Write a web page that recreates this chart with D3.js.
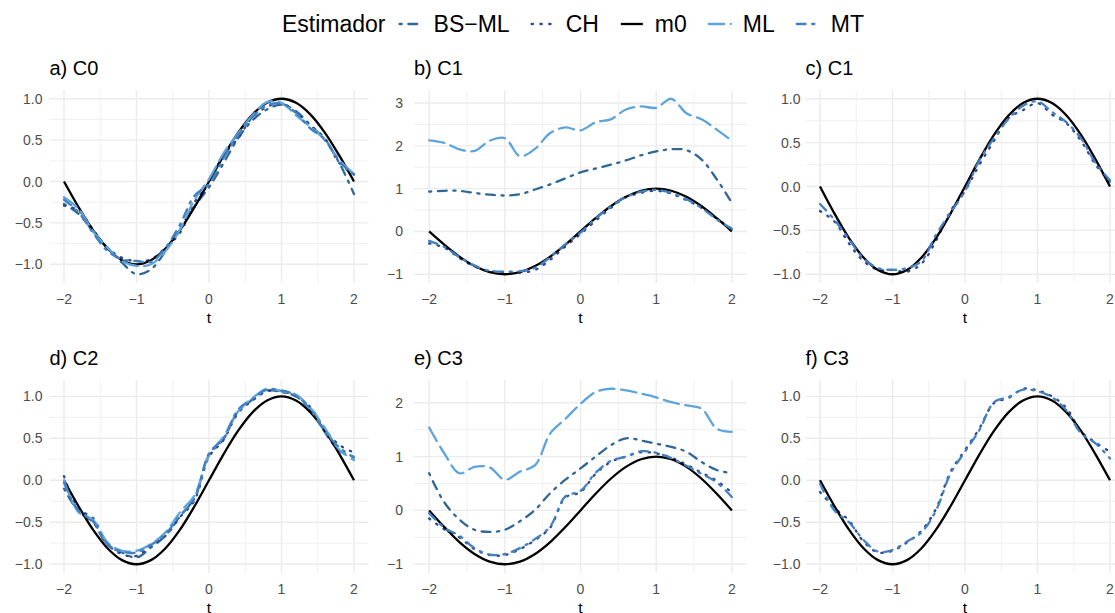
<!DOCTYPE html>
<html>
<head>
<meta charset="utf-8">
<script src="https://cdn.jsdelivr.net/npm/d3@7"></script>
<style>
  body { margin: 0; background: #fff; }
  text { font-family: "Liberation Sans", Arial, sans-serif; }
</style>
</head>
<body>
<div id="chart"></div>
<script>
const width = 1115, height = 613;

// grid of t values shared by every curve
const tGrid = [-2, -1.8, -1.6, -1.4, -1.2, -1, -0.8, -0.6, -0.4, -0.2, 0, 0.2, 0.4, 0.6, 0.8, 1, 1.2, 1.4, 1.6, 1.8, 2];

// true curve
const m0 = [0, -0.309, -0.588, -0.809, -0.951, -1, -0.951, -0.809, -0.588, -0.309, 0, 0.309, 0.588, 0.809, 0.951, 1, 0.951, 0.809, 0.588, 0.309, 0];

// a) C0
const aBSML = [-0.27, -0.39, -0.6, -0.8, -0.98, -1.12, -1.06, -0.84, -0.56, -0.3, -0.07, 0.22, 0.52, 0.74, 0.87, 0.93, 0.85, 0.68, 0.5, 0.22, -0.15];
const aCH   = [-0.29, -0.35, -0.58, -0.8, -0.92, -0.96, -0.94, -0.8, -0.62, -0.25, -0.01, 0.32, 0.52, 0.78, 0.9, 0.95, 0.83, 0.68, 0.52, 0.22, 0.09];
const aML   = [-0.19, -0.33, -0.6, -0.8, -0.96, -1.02, -1.0, -0.84, -0.58, -0.22, 0.03, 0.34, 0.58, 0.8, 0.96, 0.95, 0.8, 0.66, 0.5, 0.26, 0.09];
const aMT   = [-0.22, -0.37, -0.62, -0.84, -0.94, -0.96, -0.97, -0.8, -0.52, -0.17, -0.03, 0.28, 0.56, 0.78, 0.92, 0.94, 0.83, 0.64, 0.51, 0.24, 0.08];

// b) C1
const bBSML = [0.93, 0.95, 0.95, 0.9, 0.86, 0.84, 0.87, 0.98, 1.1, 1.24, 1.38, 1.47, 1.56, 1.66, 1.78, 1.87, 1.92, 1.9, 1.68, 1.22, 0.67];
const bCH   = [-0.28, -0.38, -0.62, -0.82, -0.93, -0.95, -0.96, -0.9, -0.66, -0.35, -0.06, 0.25, 0.55, 0.8, 0.9, 0.95, 0.88, 0.73, 0.55, 0.3, 0.06];
const bML   = [2.13, 2.07, 1.92, 1.88, 2.12, 2.18, 1.76, 1.93, 2.3, 2.43, 2.36, 2.55, 2.62, 2.85, 2.92, 2.89, 3.1, 2.76, 2.62, 2.38, 2.12];
const bMT   = [-0.22, -0.36, -0.6, -0.8, -0.92, -0.94, -0.93, -0.85, -0.6, -0.3, -0.03, 0.3, 0.58, 0.8, 0.93, 0.97, 0.9, 0.75, 0.55, 0.28, 0.06];

// c) C1
const cCH = [-0.28, -0.4, -0.65, -0.85, -0.95, -0.95, -0.97, -0.88, -0.62, -0.28, -0.05, 0.25, 0.52, 0.78, 0.87, 0.95, 0.82, 0.72, 0.52, 0.25, 0.05];
const cMT = [-0.2, -0.38, -0.6, -0.82, -0.93, -0.95, -0.93, -0.85, -0.55, -0.3, -0.05, 0.3, 0.55, 0.77, 0.92, 0.97, 0.85, 0.73, 0.55, 0.27, 0.07];

// d) C2
const dBSML = [-0.1, -0.37, -0.5, -0.77, -0.86, -0.92, -0.8, -0.66, -0.43, -0.21, 0.3, 0.49, 0.82, 0.96, 1.07, 1.05, 1.0, 0.84, 0.57, 0.35, 0.28];
const dCH   = [0.05, -0.34, -0.45, -0.76, -0.88, -0.9, -0.78, -0.66, -0.44, -0.24, 0.28, 0.48, 0.8, 0.95, 1.06, 1.06, 1.0, 0.87, 0.6, 0.42, 0.33];
const dML   = [0.0, -0.38, -0.47, -0.74, -0.84, -0.84, -0.76, -0.62, -0.38, -0.18, 0.3, 0.52, 0.82, 0.98, 1.09, 1.06, 1.02, 0.86, 0.62, 0.36, 0.24];
const dMT   = [-0.03, -0.36, -0.49, -0.76, -0.85, -0.86, -0.77, -0.64, -0.42, -0.22, 0.32, 0.5, 0.84, 0.97, 1.08, 1.07, 1.01, 0.84, 0.58, 0.39, 0.27];

// e) C3
const eBSML = [0.69, 0.15, -0.17, -0.36, -0.4, -0.36, -0.2, 0.01, 0.32, 0.57, 0.78, 1.0, 1.21, 1.34, 1.3, 1.24, 1.18, 1.09, 0.9, 0.75, 0.69];
const eCH   = [-0.15, -0.35, -0.5, -0.72, -0.83, -0.83, -0.72, -0.55, -0.32, 0.24, 0.34, 0.68, 0.9, 1.0, 1.08, 1.06, 0.98, 0.85, 0.7, 0.55, 0.33];
const eML   = [1.54, 1.06, 0.69, 0.81, 0.8, 0.57, 0.72, 0.84, 1.43, 1.7, 1.98, 2.2, 2.26, 2.23, 2.17, 2.1, 2.01, 1.95, 1.89, 1.52, 1.46];
const eMT   = [-0.05, -0.32, -0.47, -0.7, -0.82, -0.81, -0.7, -0.53, -0.3, 0.26, 0.36, 0.7, 0.92, 1.0, 1.1, 1.07, 0.97, 0.83, 0.68, 0.52, 0.25];

// f) C3
const fCH = [-0.14, -0.33, -0.48, -0.73, -0.86, -0.84, -0.74, -0.6, -0.34, 0.1, 0.36, 0.62, 0.92, 0.98, 1.09, 1.07, 1.0, 0.86, 0.58, 0.45, 0.34];
const fMT = [-0.04, -0.36, -0.5, -0.71, -0.85, -0.83, -0.73, -0.62, -0.36, 0.08, 0.34, 0.6, 0.93, 0.99, 1.08, 1.06, 0.99, 0.83, 0.56, 0.44, 0.26];

const estimators = ["BS−ML", "CH", "m0", "ML", "MT"];
const xTicks = [-2, -1, 0, 1, 2];

const panels = [
  { title: "a) C0", col: 0, row: 0, lines: { "BS−ML": aBSML, "CH": aCH, "m0": m0, "ML": aML, "MT": aMT } },
  { title: "b) C1", col: 1, row: 0, lines: { "BS−ML": bBSML, "CH": bCH, "m0": m0, "ML": bML, "MT": bMT } },
  { title: "c) C1", col: 2, row: 0, lines: { "CH": cCH, "m0": m0, "MT": cMT } },
  { title: "d) C2", col: 0, row: 1, lines: { "BS−ML": dBSML, "CH": dCH, "m0": m0, "ML": dML, "MT": dMT } },
  { title: "e) C3", col: 1, row: 1, lines: { "BS−ML": eBSML, "CH": eCH, "m0": m0, "ML": eML, "MT": eMT } },
  { title: "f) C3", col: 2, row: 1, lines: { "CH": fCH, "m0": m0, "MT": fMT } }
];

// styles
const u = 2.2; // dash unit
const lw = 2.3;
const color = { "BS−ML": "#2f6896", "CH": "#2c4896", "m0": "#000000", "ML": "#5ea4dc", "MT": "#4280c0" };
const dash = {
  "BS−ML": [1, 3, 4, 3].map(d => d * u).join(","),
  "CH": [0.6, 3.4].map(d => d * u).join(","),
  "m0": null,
  "ML": [7, 3].map(d => d * u).join(","),
  "MT": [4, 3, 1, 3].map(d => d * u).join(",")
};

// panel boxes
const cols = [[49.5, 368.5], [414, 747], [805.5, 1124.5]];
const labelGap = [7, 11, 5];
const rows = [[90, 283], [380, 573]];

const svg = d3.select("#chart")
  .append("svg")
  .attr("width", width)
  .attr("height", height)
  .attr("viewBox", [0, 0, width, height]);

for (let p of panels) {
  let [x0, x1] = cols[p.col];
  let [y0, y1] = rows[p.row];

  let x = d3.scaleLinear().domain([-2.2, 2.2]).range([x0, x1]);

  let all = [];
  for (let k in p.lines) all = all.concat(p.lines[k]);
  let ext = d3.extent(all);
  let pad = (ext[1] - ext[0]) * 0.05;
  let y = d3.scaleLinear().domain([ext[0] - pad, ext[1] + pad]).range([y1, y0]);

  let yTicks = y.ticks(5);
  let step = yTicks[1] - yTicks[0];
  let yMinor = [yTicks[0] - step / 2].concat(yTicks.map(v => v + step / 2))
    .filter(v => v >= y.domain()[0] && v <= y.domain()[1]);
  let fmt = step < 1 ? d3.format(".1f") : d3.format("d");
  let xMinor = [-1.5, -0.5, 0.5, 1.5];

  let g = svg.append("g");
  let grid = g.append("g").attr("stroke", "#ebebeb").attr("fill", "none");

  grid.selectAll(".ymin").data(yMinor).join("line")
    .attr("x1", x0).attr("x2", x1)
    .attr("y1", d => y(d)).attr("y2", d => y(d))
    .attr("stroke-width", 0.7);
  grid.selectAll(".xmin").data(xMinor).join("line")
    .attr("y1", y0).attr("y2", y1)
    .attr("x1", d => x(d)).attr("x2", d => x(d))
    .attr("stroke-width", 0.7);
  grid.selectAll(".ymaj").data(yTicks).join("line")
    .attr("x1", x0).attr("x2", x1)
    .attr("y1", d => y(d)).attr("y2", d => y(d))
    .attr("stroke-width", 1.4);
  grid.selectAll(".xmaj").data(xTicks).join("line")
    .attr("y1", y0).attr("y2", y1)
    .attr("x1", d => x(d)).attr("x2", d => x(d))
    .attr("stroke-width", 1.4);

  // y labels
  g.selectAll(".ylab").data(yTicks).join("text")
    .text(d => fmt(d))
    .attr("x", x0 - labelGap[p.col])
    .attr("y", d => y(d))
    .attr("text-anchor", "end")
    .attr("dominant-baseline", "central")
    .attr("font-size", 14)
    .attr("fill", "#4d4d4d");

  // x labels
  g.selectAll(".xlab").data(xTicks).join("text")
    .text(d => d3.format("d")(d))
    .attr("x", d => x(d))
    .attr("y", y1 + 21)
    .attr("text-anchor", "middle")
    .attr("font-size", 14)
    .attr("fill", "#4d4d4d");

  g.append("text")
    .text("t")
    .attr("x", (x0 + x1) / 2)
    .attr("y", y1 + 40)
    .attr("text-anchor", "middle")
    .attr("font-size", 15.5)
    .attr("fill", "#000");

  g.append("text")
    .text(p.title)
    .attr("x", x0)
    .attr("y", y0 - 15)
    .attr("font-size", 20)
    .attr("fill", "#000");

  let line = d3.line()
    .curve(d3.curveCatmullRom.alpha(0.5))
    .x((d, i) => x(tGrid[i]))
    .y(d => y(d));

  for (let name of estimators) {
    if (!p.lines[name]) continue;
    g.append("path")
      .datum(p.lines[name])
      .attr("fill", "none")
      .attr("stroke", color[name])
      .attr("stroke-width", lw)
      .attr("stroke-linecap", name === "m0" ? "butt" : "round")
      .attr("stroke-dasharray", dash[name])
      .attr("d", line);
  }
}

// legend across the top
const legend = svg.append("g");
const legY = 32;
let lx = 282;
let title = legend.append("text")
  .text("Estimador")
  .attr("x", lx).attr("y", legY)
  .attr("font-size", 23).attr("fill", "#000");
lx += title.node().getComputedTextLength() + 12;

for (let name of estimators) {
  legend.append("line")
    .attr("x1", lx + 2).attr("x2", lx + 24)
    .attr("y1", legY - 8).attr("y2", legY - 8)
    .attr("stroke", color[name])
    .attr("stroke-width", lw)
    .attr("stroke-linecap", name === "m0" ? "butt" : "round")
    .attr("stroke-dasharray", dash[name]);
  lx += 26 + 10;
  let t = legend.append("text")
    .text(name)
    .attr("x", lx).attr("y", legY)
    .attr("font-size", 23).attr("fill", "#000");
  lx += t.node().getComputedTextLength() + 20;
}
</script>
</body>
</html>
